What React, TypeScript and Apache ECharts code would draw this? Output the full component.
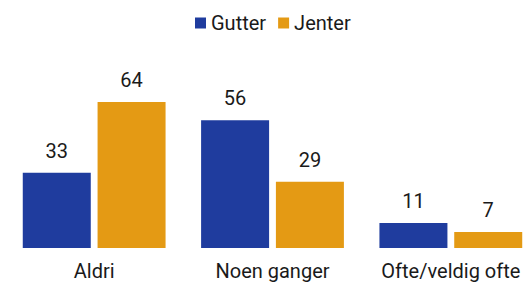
import React, { useEffect, useRef } from "react";
import * as echarts from "echarts";

const categories = ["Aldri", "Noen ganger", "Ofte/veldig ofte"];
const seriesNames = ["Gutter", "Jenter"];
const gutter = [33, 56, 11];
const jenter = [64, 29, 7];
const colors = ["#1f3c9e", "#e49a14"];

export default function App() {
  const ref = useRef<HTMLDivElement>(null);
  useEffect(() => {
    document.body.style.margin = "0";
    const chart = echarts.init(ref.current!, null, { renderer: "svg" });
    const font = "Roboto, 'Noto Sans', sans-serif";
    const labelCfg = {
      show: true,
      position: "top" as const,
      distance: 12,
      color: "#1a1a1a",
      fontSize: 20,
      fontFamily: font,
    };
    chart.setOption({
      animation: false,
      backgroundColor: "#ffffff",
      legend: {
        data: seriesNames,
        left: 190,
        top: 8,
        icon: "rect",
        itemWidth: 11,
        itemHeight: 11,
        itemGap: 12,
        itemStyle: { borderWidth: 0 },
        textStyle: { fontSize: 20, color: "#1a1a1a", fontFamily: font },
      },
      grid: { left: 5, top: 102, width: 535, height: 146, containLabel: false },
      xAxis: {
        type: "category",
        data: categories,
        axisLine: { show: false },
        axisTick: { show: false },
        axisLabel: { color: "#1a1a1a", fontSize: 20, fontFamily: font, margin: 13, interval: 0 },
      },
      yAxis: {
        type: "value",
        min: 0,
        max: 64,
        show: false,
        splitLine: { show: false },
      },
      series: [
        {
          name: seriesNames[0],
          type: "bar",
          data: gutter,
          barWidth: 68,
          barGap: "10%",
          itemStyle: { color: colors[0] },
          label: labelCfg,
        },
        {
          name: seriesNames[1],
          type: "bar",
          data: jenter,
          barWidth: 68,
          barGap: "10%",
          itemStyle: { color: colors[1] },
          label: labelCfg,
        },
      ],
    });
    return () => chart.dispose();
  }, []);
  return (
    <div style={{ width: 527, height: 288, position: "fixed", left: 0, top: 0, overflow: "hidden", background: "#fff" }}>
      <div ref={ref} style={{ width: 550, height: 288 }} />
    </div>
  );
}
